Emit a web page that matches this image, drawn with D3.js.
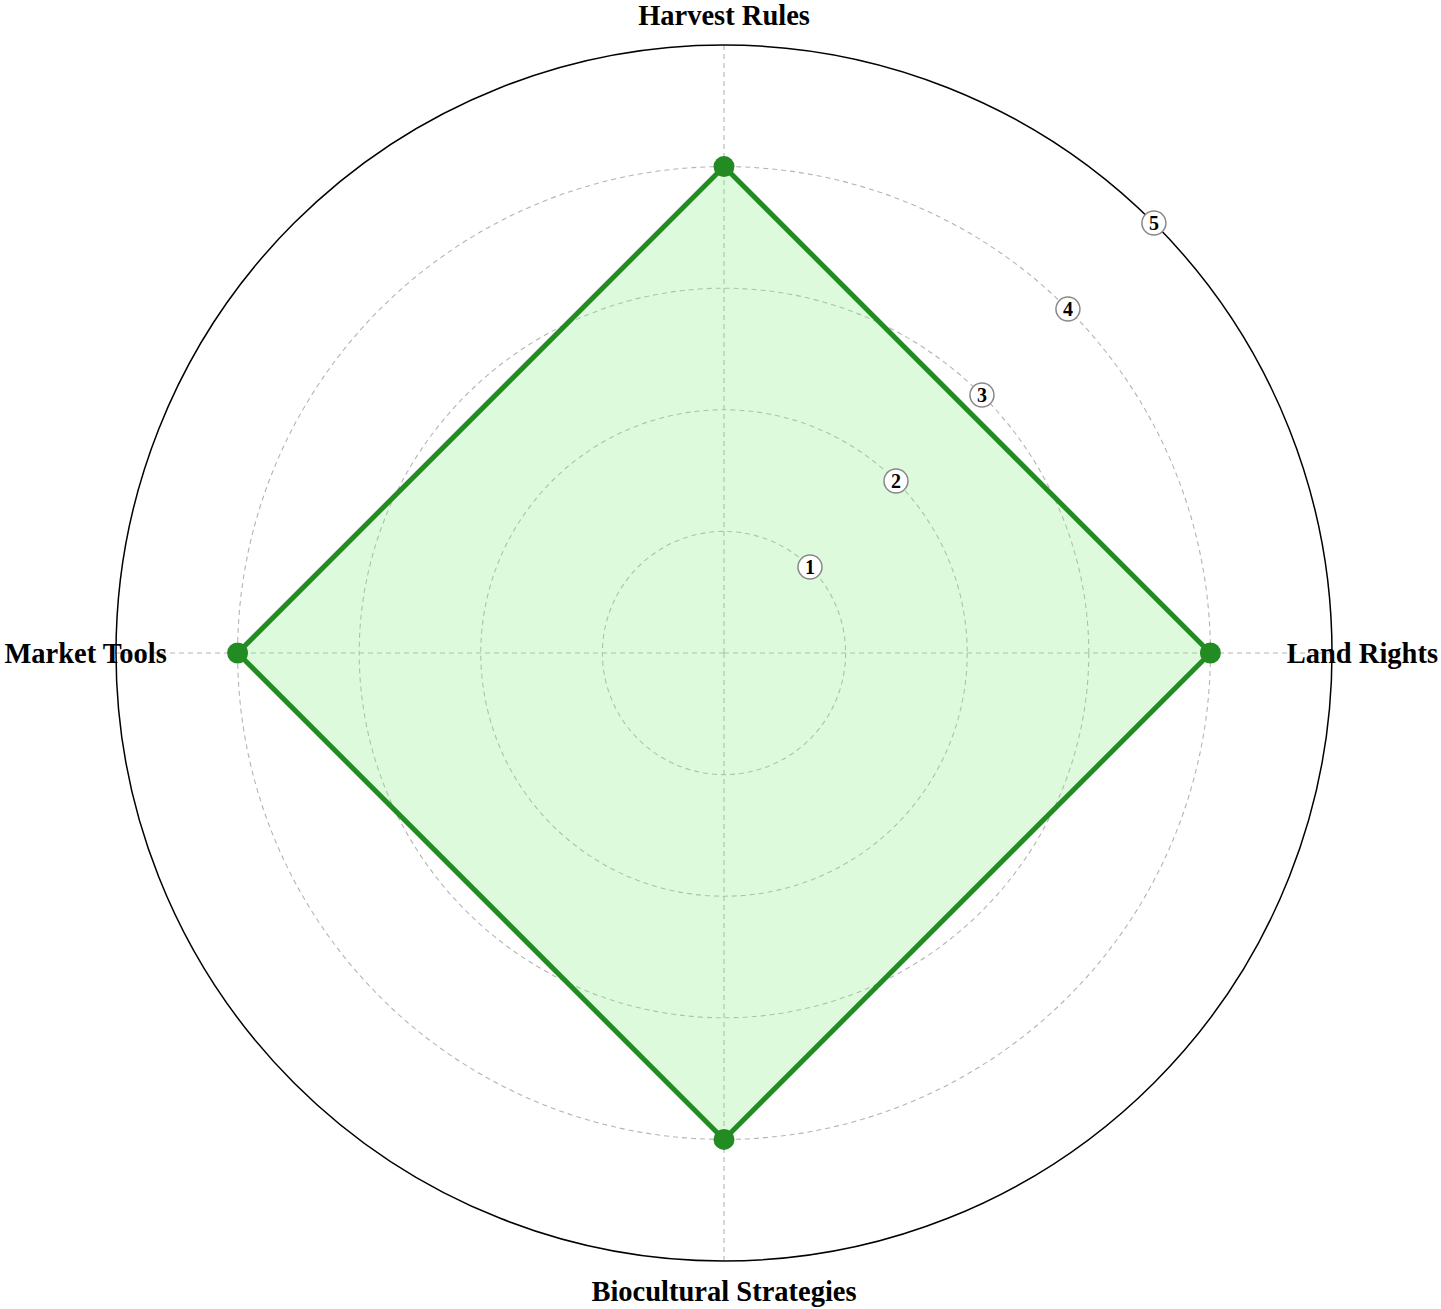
<!DOCTYPE html>
<html><head><meta charset="utf-8">
<script src="https://cdn.jsdelivr.net/npm/d3@7/dist/d3.min.js"></script>
<style>body{margin:0;background:#fff;}</style>
</head><body>
<svg id="chart" width="1441" height="1309"></svg>
<script>
const categories = ["Harvest Rules", "Land Rights", "Biocultural Strategies", "Market Tools"];
const values = [4, 4, 4, 4];
const tickValues = [1, 2, 3, 4, 5];
const maxValue = 5;

const svg = d3.select("#chart");
const cx = 724, cy = 653, R = 608;
const g = svg.append("g").attr("transform", `translate(${cx},${cy})`);
const r = d3.scaleLinear().domain([0, maxValue]).range([0, R]);
const angle = d3.scalePoint().domain(categories).range([0, 2 * Math.PI * (categories.length - 1) / categories.length]);
const pt = (a, rad) => [rad * Math.sin(a), -rad * Math.cos(a)];
const serif = "'Liberation Serif', 'Times New Roman', serif";

// grid circles
g.selectAll(".grid").data(tickValues.slice(0, -1)).join("circle")
  .attr("r", d => r(d)).attr("fill", "none")
  .attr("stroke", "#b4b4b4").attr("stroke-width", 1.1).attr("stroke-dasharray", "5,4");

// axis lines
g.selectAll(".axis").data(categories).join("line")
  .attr("x1", 0).attr("y1", 0)
  .attr("x2", d => pt(angle(d), R)[0]).attr("y2", d => pt(angle(d), R)[1])
  .attr("stroke", "#b4b4b4").attr("stroke-width", 1.1).attr("stroke-dasharray", "5,4");

// outer circle
g.append("circle").attr("r", r(maxValue)).attr("fill", "none").attr("stroke", "#000").attr("stroke-width", 1.5);

// polygon
const line = d3.lineRadial().angle((d, i) => angle(categories[i])).radius(d => r(d)).curve(d3.curveLinearClosed);
g.append("path").datum(values).attr("d", line)
  .attr("fill", "rgba(144,238,144,0.3)").attr("stroke", "#228B22").attr("stroke-width", 5).attr("stroke-linejoin", "miter");

g.selectAll(".dot").data(values).join("circle")
  .attr("cx", (d, i) => pt(angle(categories[i]), r(d))[0])
  .attr("cy", (d, i) => pt(angle(categories[i]), r(d))[1])
  .attr("r", 10.5).attr("fill", "#228B22");

// tick labels at 45 deg
const ta = Math.PI / 4;
const tk = g.selectAll(".tick").data(tickValues).join("g")
  .attr("transform", d => `translate(${pt(ta, r(d))[0]},${pt(ta, r(d))[1]})`);
tk.append("circle").attr("r", 12).attr("fill", "#fff").attr("stroke", "#888").attr("stroke-width", 1.5);
tk.append("text").text(d => d).attr("text-anchor", "middle").attr("dy", "0.35em")
  .attr("font-family", serif).attr("font-weight", "bold").attr("font-size", 20).attr("fill", "#000");

// category labels
g.selectAll(".lab").data(categories).join("text")
  .attr("x", d => pt(angle(d), R * 1.05)[0]).attr("y", d => pt(angle(d), R * 1.05)[1])
  .attr("text-anchor", "middle").attr("dy", "0.35em")
  .attr("font-family", serif).attr("font-weight", "bold").attr("font-size", 28.5)
  .attr("fill", "#000").text(d => d);
</script>
</body></html>
